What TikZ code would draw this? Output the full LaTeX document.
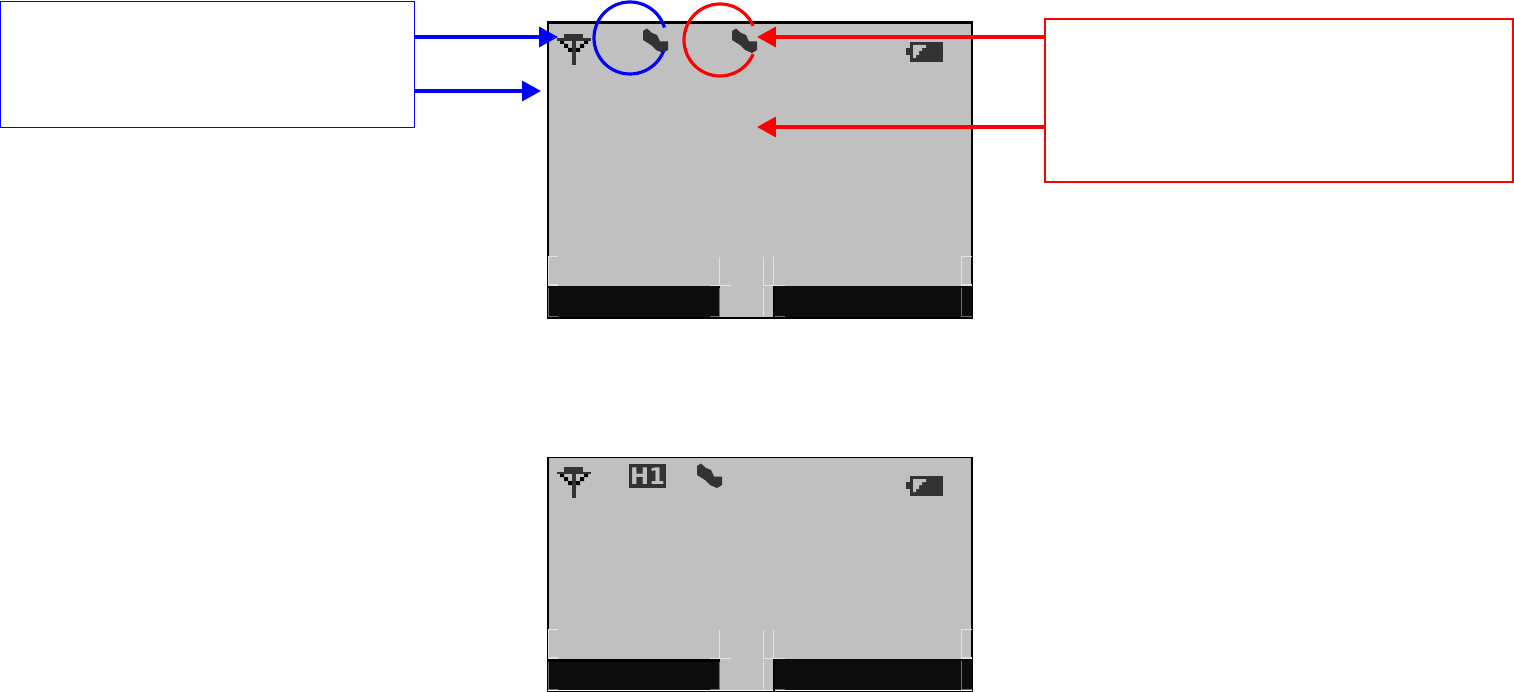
\documentclass[tikz,border=0pt]{standalone}
\usepackage{xcolor}
\usepackage{fontspec}
\newfontfamily\lcdfont{DejaVu Sans}
\usetikzlibrary{arrows.meta, positioning}
\definecolor{LCDgray}{HTML}{C0C0C0}
\definecolor{LCDdark}{HTML}{0D0D0D}
\definecolor{LCDicon}{HTML}{333333}
\definecolor{LCDedge}{HTML}{E2E2E2}
\definecolor{LCDedgedim}{HTML}{6E6E6E}
\tikzset{
   screen/.style={draw=black, fill=LCDgray, line width=0.7pt, inner sep=0pt, minimum width=8.48cm},
   notebox/.style={draw, fill=white, line width=0.5pt, inner sep=0pt},
   pointer/.style={line width=2pt, -{Triangle[length=19*0.567pt, width=20*0.567pt]}},
   ringline/.style={line width=1.8pt},
   softbar/.style={fill=LCDdark},
   edgeline/.style={LCDedge, line width=0.6pt},
   edgedim/.style={LCDedgedim, line width=0.6pt},
   pics/antenna/.style={code={
      \fill[LCDicon] (564,34) rectangle (583,38.5);
      \fill[LCDicon] (557,38.5) rectangle (591,41);
      \fill[LCDicon] (572,41) rectangle (576,65);
      \fill[black] (560,41) rectangle (564,44) (564,44) rectangle (568,48) (568,48) rectangle (572,52);
      \fill[black] (584,41) rectangle (588,44) (580,44) rectangle (584,48) (576,48) rectangle (580,52);
   }},
   pics/handset/.style={code={
      \fill[LCDicon] (1,3) -- (5,0.5) -- (10,5) -- (15,7) -- (18,13.5) -- (26,13.5)
         -- (26,22) -- (21,25) -- (14,22) -- (9,17) -- (1,12) -- cycle;
   }},
   pics/battery/.style={code={
      \fill[LCDicon] (910,42) rectangle (943,62);
      \fill[LCDicon] (906,48) rectangle (910,55);
      \fill[LCDgray] (913,45) -- (926,45) -- (926,48) -- (922,48) -- (922,51) -- (919,51) -- (919,55)
         -- (916,55) -- (916,58) -- (913,58) -- cycle;
   }},
   pics/softkeys/.style={code={
      % Black bars
      \fill[softbar] (548,286) rectangle (720,317);
      \fill[softbar] (773,286) rectangle (972,317);
      \fill[black] (773,286) rectangle (775,318);
      % Faint cell outlines above the bars
      \draw[edgeline] (558,256.5) -- (548.5,256.5) -- (548.5,285) -- (558,285);
      \draw[edgeline] (719.5,257) -- (719.5,285);
      \draw[edgeline] (763.5,257) -- (763.5,285);
      \draw[edgeline] (773.5,257) -- (773.5,285);
      \draw[edgeline] (710,285.5) -- (731,285.5);
      \draw[edgeline] (763,285.5) -- (785,285.5);
      \draw[edgeline] (972,256.5) -- (961.5,256.5) -- (961.5,285) -- (972,285);
      \draw[edgeline] (763.5,288) -- (763.5,317);
      % Same outlines inside the bars
      \draw[edgedim] (548.5,288) -- (548.5,316.5) -- (558,316.5);
      \draw[edgedim] (719.5,288) -- (719.5,316.5) -- (710,316.5);
      \draw[edgedim] (961.5,288) -- (961.5,316.5) -- (972,316.5);
      \draw[edgedim] (775,316.5) -- (785,316.5);
   }}
}
\begin{document}
\begin{tikzpicture}[x=0.02cm, y=-0.02cm]
            \useasboundingbox (0,0) rectangle (1514,692);
            % Screens
            \node[screen, minimum height=5.9cm] (topscreen) at (760,170.5) {};
            \node[screen, minimum height=4.68cm] (lowscreen) at (760,574.5) {};
            \draw[black, line width=1.2pt] (topscreen.north west) -- (topscreen.north east);
            % Top screen contents
            \pic at (0,0) {antenna};
            \pic at (642,28) {handset};
            \pic at (731,28) {handset};
            \pic at (0,0) {battery};
            \pic at (0,0) {softkeys};
            % Lower screen contents
            \pic at (0,433) {antenna};
            \node[fill=LCDicon, text=LCDgray, inner sep=0pt, minimum width=0.74cm, minimum height=0.48cm,
               font=\lcdfont\bfseries\fontsize{13}{13}\selectfont] (hone) at (647.5,476) {H1};
            \pic at (696,463) {handset};
            \pic at (0,434) {battery};
            \pic at (0,373) {softkeys};
            \fill[black] (548,659) rectangle (720,661.5);
            \draw[white, line width=0.6pt] (548,690.5) -- (773,690.5) (775,690.5) -- (972,690.5);
            % Note boxes
            \node[notebox, draw=blue, minimum width=8.27cm, minimum height=2.52cm] (bluenote) at (207.5,64) {};
            \node[notebox, draw=red, line width=0.9pt, minimum width=9.36cm, minimum height=3.26cm] (rednote) at (1279,100.5) {};
            % Rings around the icons
            \coordinate (bluering) at (630,38);
            \coordinate (redring) at (720,40);
            \draw[blue, ringline] (bluering) ++(22:36) arc[start angle=22, end angle=343, radius=36];
            \draw[red, ringline] (redring) ++(23:36) arc[start angle=23, end angle=337, radius=36];
            % Arrows from the blue note
            \coordinate (bluetipA) at (558,37);
            \coordinate (bluetipB) at (541,91);
            \draw[pointer, blue] (bluenote.east |- bluetipA) -- (bluetipA);
            \draw[pointer, blue] (bluenote.east |- bluetipB) -- (bluetipB);
            % Arrows from the red note
            \coordinate (redtipA) at (757,37);
            \coordinate (redtipB) at (757,127);
            \draw[pointer, red] (rednote.west |- redtipA) -- (redtipA);
            \draw[pointer, red] (rednote.west |- redtipB) -- (redtipB);
         \end{tikzpicture}
\end{document}
